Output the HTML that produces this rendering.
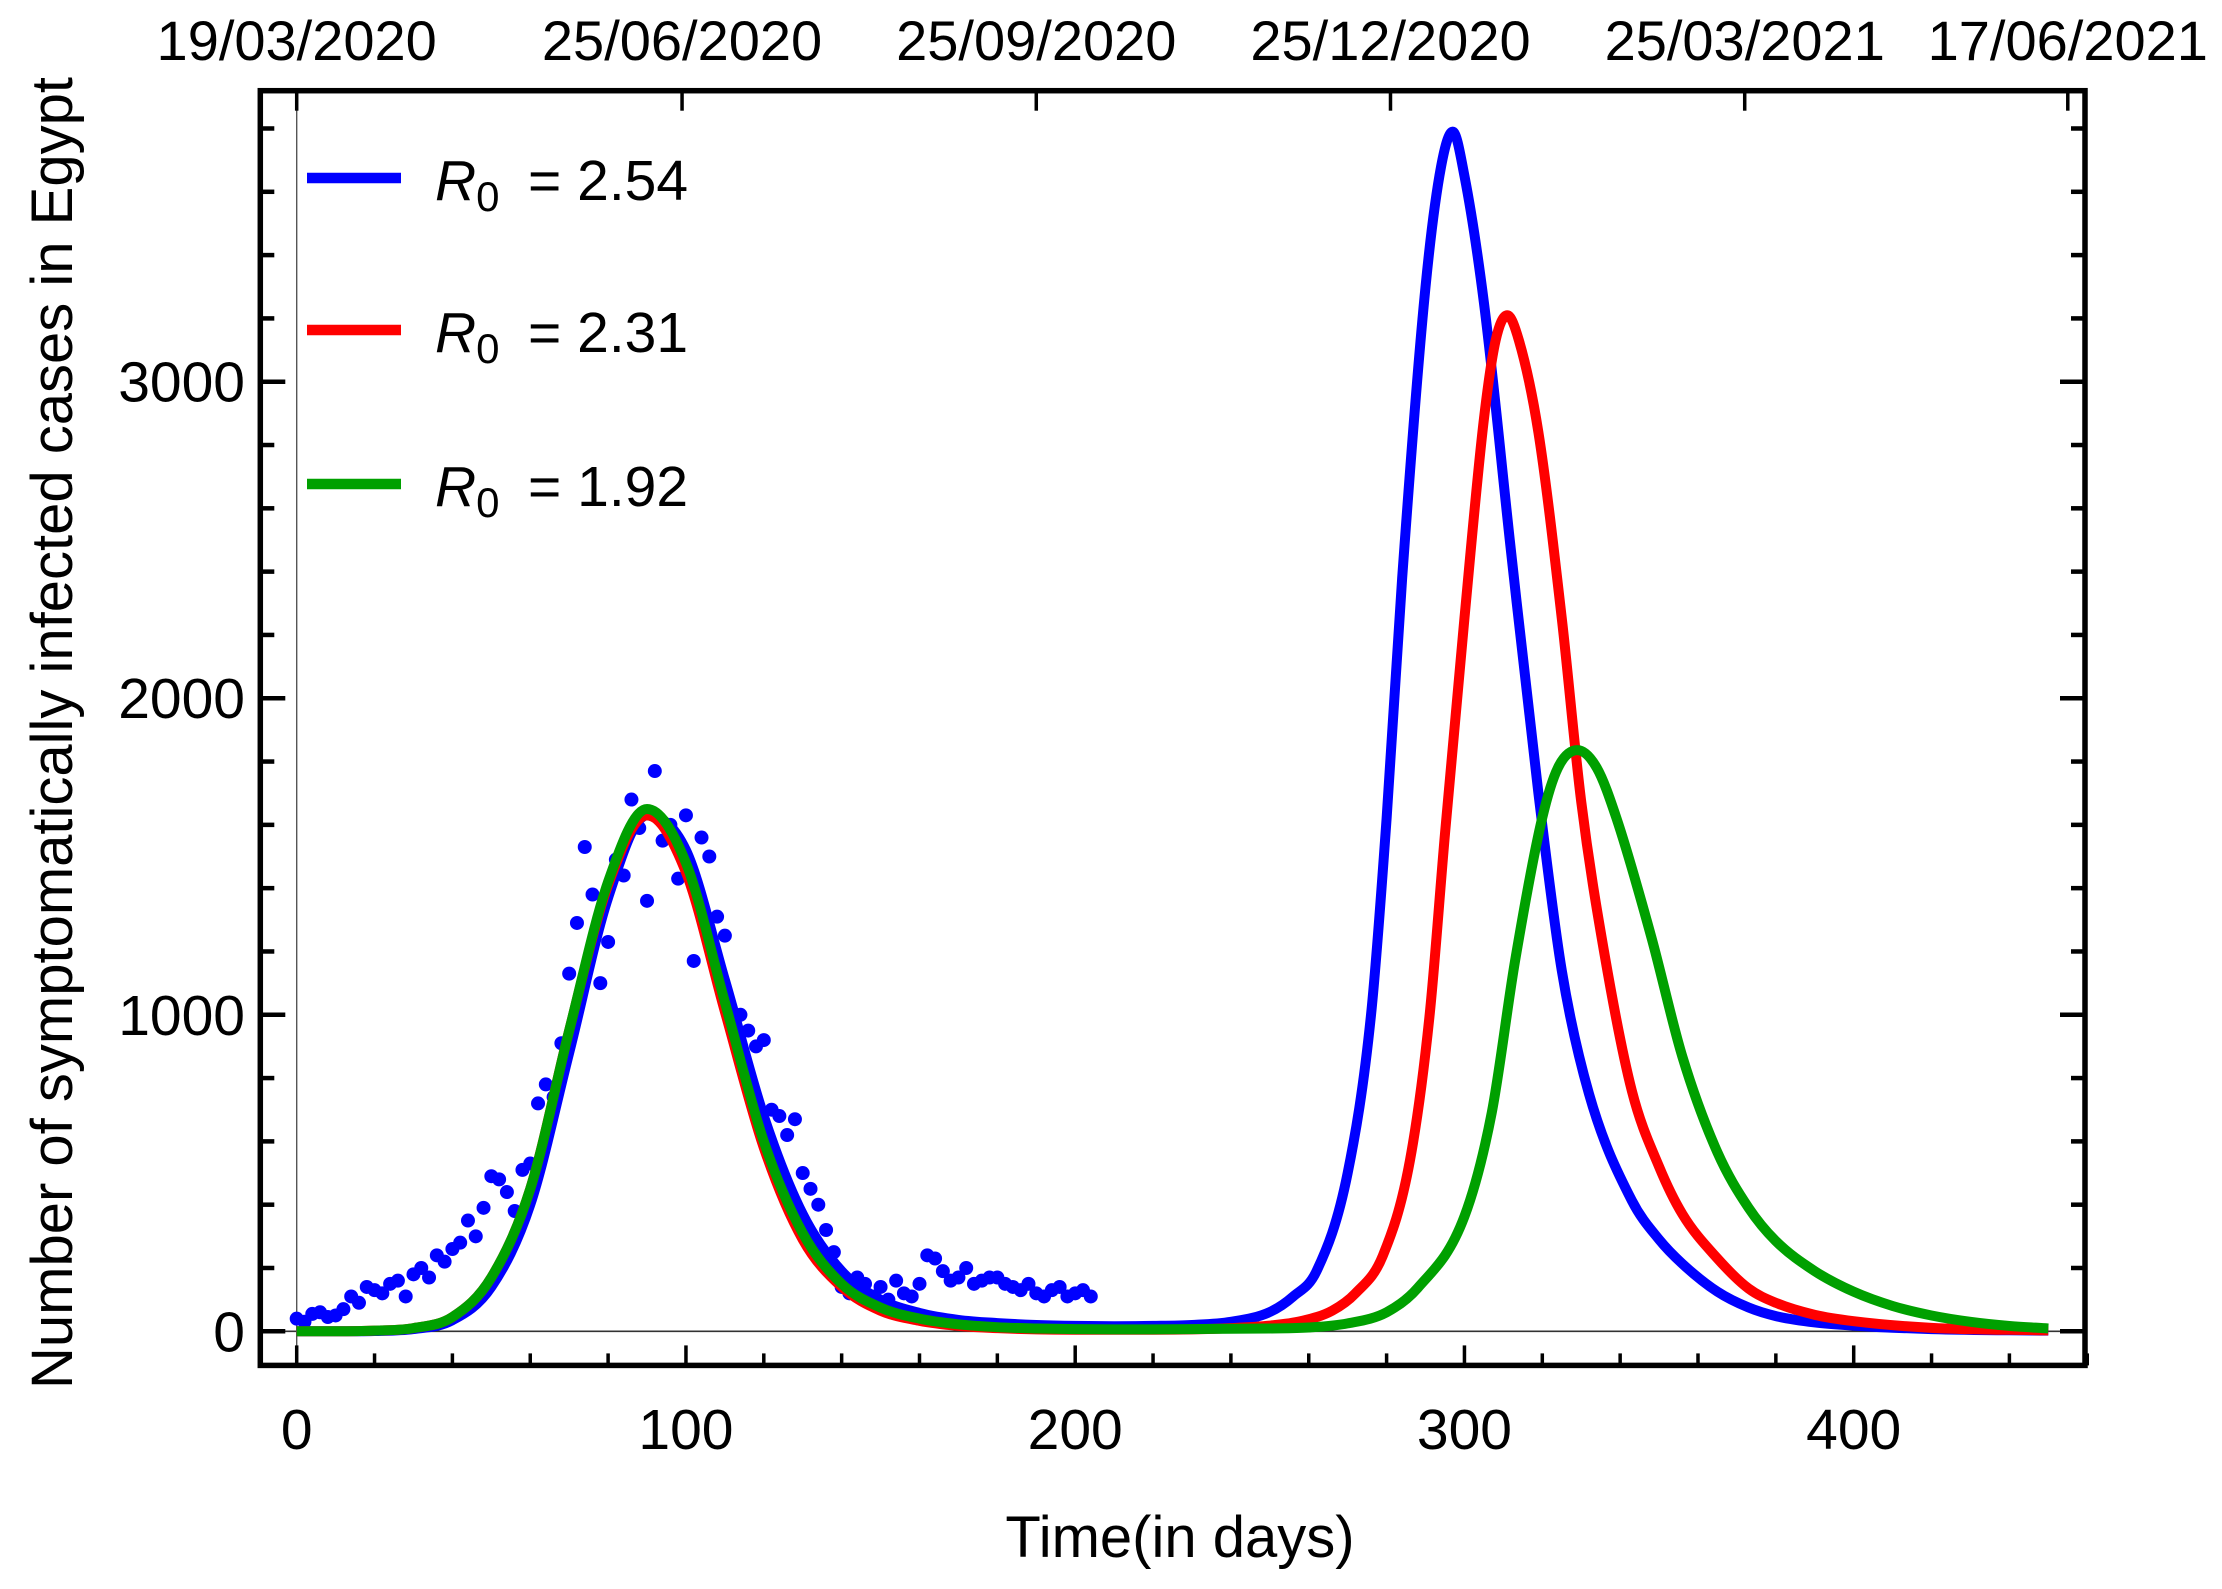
<!DOCTYPE html>
<html><head><meta charset="utf-8"><style>
html,body{margin:0;padding:0;background:#fff;}
svg{display:block;}
text{font-family:"Liberation Sans",Arial,sans-serif;fill:#000;}
</style></head><body>
<svg id="chart" width="2222" height="1589" viewBox="0 0 2222 1589" xmlns="http://www.w3.org/2000/svg">
<g id="axes"></g>
<g id="series"></g>
<g id="legend"></g>
</svg>
<script>
// ---- data ----
const xTicks = [0,100,200,300,400];
const yTicks = [0,1000,2000,3000];
const topTickDays = [0,99,190,281,372,455];
const topTickLabels = ["19/03/2020","25/06/2020","25/09/2020","25/12/2020","25/03/2021","17/06/2021"];
const obsDays = [0,2,4,6,8,10,12,14,16,18,20,22,24,26,28,30,32,34,36,38,40,42,44,46,48,50,52,54,56,58,60,62,64,66,68,70,72,74,76,78,80,82,84,86,88,90,92,94,96,98,100,102,104,106,108,110,112,114,116,118,120,122,124,126,128,130,132,134,136,138,140,142,144,146,148,150,152,154,156,158,160,162,164,166,168,170,172,174,176,178,180,182,184,186,188,190,192,194,196,198,200,202,204];
const obsValues = [40,30,55,60,45,50,70,110,90,140,130,120,150,160,110,180,200,170,240,220,260,280,350,300,390,490,480,440,380,510,530,720,780,740,910,1130,1290,1530,1380,1100,1230,1490,1440,1680,1590,1360,1770,1550,1600,1430,1630,1170,1560,1500,1310,1250,980,1000,950,900,920,700,680,620,670,500,450,400,320,250,140,120,170,150,110,140,100,160,120,110,150,240,230,190,160,170,200,150,160,170,170,150,140,130,150,120,110,130,140,110,120,130,110];
const blueDays = [0,10,20,30,40,50,60,70,80,90,100,110,120,130,140,150,160,170,180,190,200,210,220,230,240,250,256,262,270,276,280,284,290,294,297,300,305,312,319,325,332,343,350,356,365,373,380,390,400,420,450];
const blueValues = [0,0,1,7,35,140,400,880,1370,1630,1520,1110,680,370,190,100,58,36,26,20,17,16,17,20,30,61,110,190,500,1000,1620,2380,3300,3680,3790,3650,3250,2460,1700,1140,750,413,290,213,125,75,48,28,18,7,2];
const redDays = [0,10,20,30,40,50,60,70,80,90,100,110,120,130,140,150,160,170,180,190,200,210,220,230,240,250,258,266,272,279,286,291,295,300,305,308,311,314,319,325,330,336,343,350,356,365,373,380,390,400,420,450];
const redValues = [0,0,2,10,45,170,450,950,1410,1630,1450,1010,580,290,140,65,33,17,10,6,5,5,5,6,10,18,32,65,120,238,540,993,1572,2253,2882,3130,3210,3130,2840,2253,1673,1190,760,520,370,230,135,90,52,32,11,3];
const greenDays = [0,10,20,30,40,50,60,70,80,90,100,110,120,130,140,150,160,170,180,190,200,210,220,230,240,250,260,270,280,288,300,307,313,320,324,329,334,339,348,356,365,373,380,390,400,410,420,430,440,450];
const greenValues = [0,0,2,10,45,170,450,950,1420,1650,1480,1040,600,310,150,75,40,22,13,9,7,6,6,7,8,9,12,25,60,137,363,690,1170,1623,1780,1836,1780,1623,1246,867,565,390,285,190,125,80,50,30,17,9];
const legendLabels = ["2.54","2.31","1.92"];

// ---- scales ----
const X = d => 296.7 + d*3.8925;
const Y = v => 1331.3 - v*0.31653;
const NS = "http://www.w3.org/2000/svg";
function mk(tag, attrs, parent){ const e=document.createElementNS(NS,tag); for(const k in attrs) e.setAttribute(k,attrs[k]); parent.appendChild(e); return e; }
const axes=document.getElementById('axes'), series=document.getElementById('series'), legend=document.getElementById('legend');
const L=260.3,R=2085,T=90.7,B=1365.4;

let zl = mk('line',{x1:L,x2:R,y1:Y(0),y2:Y(0),stroke:'#333','stroke-width':1.6},axes);


let vl = mk('line',{x1:X(0),x2:X(0),y1:T,y2:B,stroke:'#555','stroke-width':1.4},axes);



for(let d=0; d<=460; d+=20){
  const big = d%100===0, len = big?20:12;
  let t=mk('line',{x1:X(d),x2:X(d),y1:B,y2:B-len,stroke:'#000','stroke-width':3.5},axes);
  
  
}
xTicks.forEach(d=>{
  let t=mk('text',{x:X(d),y:1449,'font-size':57,'text-anchor':'middle'},axes); t.textContent=d;
  
  
});
for(let v=0; v<=3800; v+=200){
  const big=v%1000===0, len=big?25:14;
  let t=mk('line',{x1:L,x2:L+len,y1:Y(v),y2:Y(v),stroke:'#000','stroke-width':4.5},axes);
  
  
  let t2=mk('line',{x1:R,x2:R-len,y1:Y(v),y2:Y(v),stroke:'#000','stroke-width':4.5},axes);
  
  
}
yTicks.forEach(v=>{
  let t=mk('text',{x:245,y:Y(v)+20,'font-size':57,'text-anchor':'end'},axes); t.textContent=v;
  
  
});
topTickDays.forEach((d,i)=>{
  let t=mk('line',{x1:X(d),x2:X(d),y1:T,y2:T+20,stroke:'#000','stroke-width':3.5},axes);
  
  
  let lb=mk('text',{x:X(d),y:60,'font-size':56,'text-anchor':'middle'},axes); lb.textContent=topTickLabels[i];
  
  
});
let fr=mk('rect',{x:L,y:T,width:R-L,height:B-T,fill:'none',stroke:'#000','stroke-width':5.5},axes);


let xt=mk('text',{x:1180,y:1557,'font-size':58,'text-anchor':'middle'},axes); xt.textContent='Time(in days)';


let yt=mk('text',{x:0,y:0,'font-size':58,'text-anchor':'middle',transform:'translate(72,733) rotate(-90)'},axes); yt.textContent='Number of symptomatically infected cases in Egypt';



function monoPath(xs, ys){
  const n=xs.length, m=[], dlt=[];
  for(let i=0;i<n-1;i++) dlt.push((ys[i+1]-ys[i])/(xs[i+1]-xs[i]));
  m[0]=dlt[0]; m[n-1]=dlt[n-2];
  for(let i=1;i<n-1;i++){ m[i]= (dlt[i-1]*dlt[i]<=0)?0:(dlt[i-1]+dlt[i])/2; }
  for(let i=0;i<n-1;i++){ if(dlt[i]===0){m[i]=0;m[i+1]=0;continue;} const a=m[i]/dlt[i], b=m[i+1]/dlt[i], s=a*a+b*b; if(s>9){const t=3/Math.sqrt(s); m[i]=t*a*dlt[i]; m[i+1]=t*b*dlt[i];} }
  let p='M'+X(xs[0]).toFixed(2)+','+Y(ys[0]).toFixed(2);
  for(let i=0;i<n-1;i++){ const h=xs[i+1]-xs[i];
    p+=' C'+X(xs[i]+h/3).toFixed(2)+','+Y(ys[i]+m[i]*h/3).toFixed(2)+' '+X(xs[i+1]-h/3).toFixed(2)+','+Y(ys[i+1]-m[i+1]*h/3).toFixed(2)+' '+X(xs[i+1]).toFixed(2)+','+Y(ys[i+1]).toFixed(2); }
  return p;
}
obsDays.forEach((d,i)=>{
  let c=mk('circle',{cx:X(d),cy:Y(obsValues[i]),r:7,fill:'#0000ff'},series);
  
  
});
const sdefs=[[blueDays,blueValues,'#0000ff','curve-r0-2-54'],[redDays,redValues,'#ff0000','curve-r0-2-31'],[greenDays,greenValues,'#00a000','curve-r0-1-92']];
sdefs.forEach(s=>{
  let p=mk('path',{d:monoPath(s[0],s[1]),fill:'none',stroke:s[2],'stroke-width':10,'stroke-linejoin':'round'},series);
  
  
});
const ly=[178,330,484];
sdefs.forEach((s,i)=>{
  let ln=mk('line',{x1:307,x2:401,y1:ly[i],y2:ly[i],stroke:s[2],'stroke-width':10.5},legend);
  
  
  let t=mk('text',{x:435,y:ly[i]+22,'font-size':57},legend);
  
  
  let r=mk('tspan',{'font-style':'italic'},t); r.textContent='R';
  let sub=mk('tspan',{'font-size':42,dy:11},t); sub.textContent='0';
  let rest=mk('tspan',{x:528,dy:-11},t); rest.textContent='= '+legendLabels[i];
});
</script>
</body></html>
